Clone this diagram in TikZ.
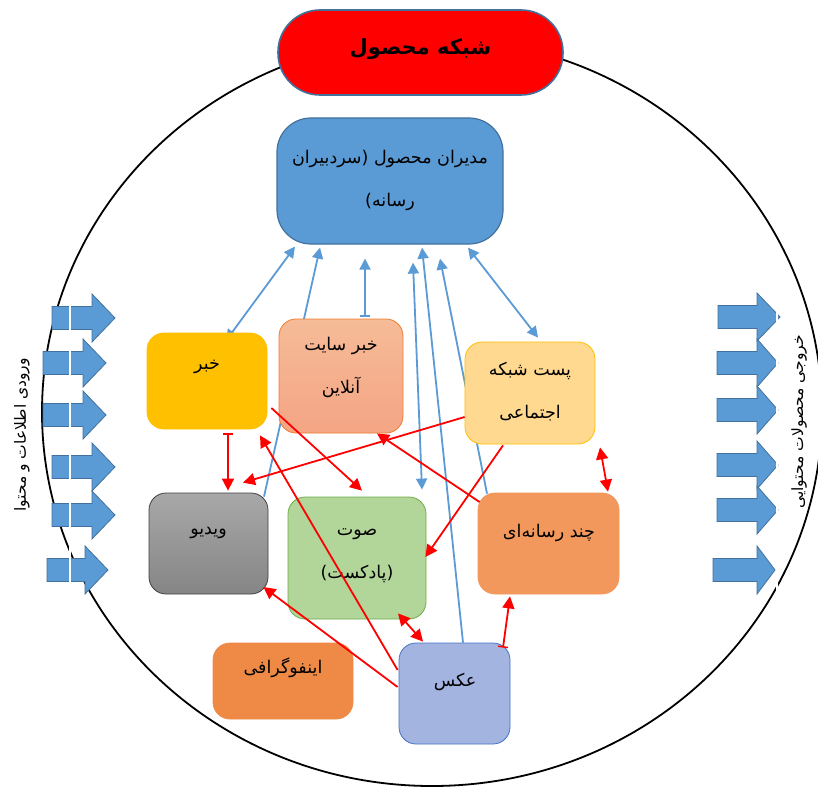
\documentclass[tikz,border=0pt]{standalone}
\usepackage{fontspec}
\usetikzlibrary{arrows.meta,calc}
\newfontfamily\arfont[Script=Arabic]{DejaVu Sans}
\TeXXeTstate=1
\definecolor{blueC}{HTML}{5B9BD5}
\definecolor{blueB}{HTML}{41719C}
\definecolor{redC}{HTML}{FF0000}
\definecolor{yelC}{HTML}{FFC000}
\definecolor{siteT}{HTML}{F6BB98}
\definecolor{siteB}{HTML}{F4A584}
\definecolor{siteD}{HTML}{ED7D31}
\definecolor{postC}{HTML}{FFD98F}
\definecolor{vidT}{HTML}{A8A8A8}
\definecolor{vidB}{HTML}{858585}
\definecolor{vidD}{HTML}{404040}
\definecolor{sndC}{HTML}{B2D59A}
\definecolor{sndD}{HTML}{70AD47}
\definecolor{mulC}{HTML}{F2985C}
\definecolor{infC}{HTML}{EE8A46}
\definecolor{phoC}{HTML}{A3B4E0}
\definecolor{phoD}{HTML}{4472C4}
\pgfdeclarelayer{back}
\pgfdeclarelayer{bg}
\pgfsetlayers{back,bg,main}
\tikzset{
  boxstyle/.style={rounded corners=17pt, line width=0.8pt, inner sep=0pt},
  txt/.style={font=\arfont\fontsize{17.5}{43}\selectfont, align=center, inner sep=0pt},
  sidetxt/.style={font=\arfont\fontsize{15.5}{18}\selectfont, rotate=90, inner sep=0pt},
  blk/.style={fill=blueC, draw=blueB, line width=0.8pt},
  bl/.style={draw=blueC, line width=1.8pt},
  rl/.style={draw=redC, line width=1.8pt},
  btip/.tip={Triangle[length=11pt,width=11pt]},
  rtip/.tip={Triangle[length=12pt,width=12pt]},
  bbar/.tip={Bar[width=10pt,line width=1.5pt]}
}
\begin{document}
\begin{tikzpicture}[x=1pt,y=-1pt]
\useasboundingbox (0,0) rectangle (818,786);
\begin{pgfonlayer}{back}
\fill[white] (0,0) rectangle (818,786);
\draw[line width=1.8pt] (432,412) ellipse [x radius=390pt, y radius=374pt];
\end{pgfonlayer}
% input block arrows (left)
\foreach \xa/\xb/\xc/\yy in {52/92/115/318, 43/83/106/363, 43/83/106/415, 52/92/115/467, 52/92/115/515, 47/85/108/570}{
  \draw[blk] (\xa,\yy-11.5) -- (\xb,\yy-11.5) -- (\xb,\yy-24) -- (\xc,\yy) -- (\xb,\yy+24) -- (\xb,\yy+11.5) -- (\xa,\yy+11.5) -- cycle;
}
% output block arrows (right)
\foreach \xa/\xb/\xc/\yy in {718/757/780/317, 717/757/778/363, 717/757/778/410, 717/757/778/465, 717/757/778/510, 713/757/775/570}{
  \draw[blk] (\xa,\yy-11.5) -- (\xb,\yy-11.5) -- (\xb,\yy-24) -- (\xc,\yy) -- (\xb,\yy+24) -- (\xb,\yy+11.5) -- (\xa,\yy+11.5) -- cycle;
}
\draw[white, line width=2pt] (70,285) -- (70,600);
\draw[white, line width=1.5pt] (777,285) -- (777,600);
% side labels
\node[sidetxt] (inlabel) at (22,435) {\beginR ورودی اطلاعات و محتوا\endR};
\node[sidetxt] (outlabel) at (799,422) {\beginR خروجی محصولات محتوایی\endR};
% title
\node[fill=redC, draw=blueB, line width=1.6pt, rounded corners=42pt, minimum width=285pt, minimum height=85pt, inner sep=0pt] (title) at (420.5,52.5) {};
\node[font=\arfont\bfseries\fontsize{21}{24}\selectfont, inner sep=0pt] (titleT) at (420.5,49) {\beginR شبکه محصول\endR};
% manager node
\node[boxstyle, rounded corners=34pt, fill=blueC, draw=blueB, line width=1.2pt, minimum width=226pt, minimum height=126pt] (manager) at (390,181) {};
\node[txt] (managerT) at (390,180) {\beginR مدیران محصول (سردبیران\endR\\\beginR رسانه)\endR};
% content boxes
\node[boxstyle, fill=yelC, draw=yelC, minimum width=120pt, minimum height=96pt] (khabar) at (207,381) {};
\node[boxstyle, top color=siteT, bottom color=siteB, draw=siteD, minimum width=124pt, minimum height=114pt] (site) at (341,376) {};
\node[boxstyle, fill=postC, draw=yelC, minimum width=130pt, minimum height=102pt] (post) at (530,393) {};
\node[boxstyle, top color=vidT, bottom color=vidB, draw=vidD, minimum width=119pt, minimum height=101pt] (video) at (208.5,543.5) {};
\node[boxstyle, fill=sndC, draw=sndD, minimum width=138pt, minimum height=122pt] (sound) at (357,558) {};
\node[boxstyle, fill=mulC, draw=mulC, minimum width=141pt, minimum height=101pt] (multi) at (548.5,543.5) {};
\node[boxstyle, fill=infC, draw=infC, minimum width=140pt, minimum height=76pt] (info) at (283,681) {};
\node[boxstyle, fill=phoC, draw=phoD, minimum width=111pt, minimum height=101pt] (photo) at (454.5,693.5) {};
% texts
\node[txt] (khabarT) at (207,367) {\beginR خبر\endR};
\node[txt] (siteT) at (341,367) {\beginR خبر سایت\endR\\\beginR آنلاین\endR};
\node[txt] (postT) at (530,392) {\beginR پست شبکه\endR\\\beginR اجتماعی\endR};
\node[txt] (videoT) at (208.5,533) {\beginR ویدیو\endR};
\node[txt] (soundT) at (357,556) {\beginR صوت\endR\\\beginR (پادکست)\endR};
\node[txt] (multiT) at (549,533) {\beginR چند رسانه‌ای\endR};
\node[txt] (infoT) at (283,668) {\beginR اینفوگرافی\endR};
\node[txt] (photoT) at (455,682) {\beginR عکس\endR};
% blue connectors (behind boxes)
\begin{pgfonlayer}{bg}
\draw[bl, {btip}-{btip}] ($(khabar.north)+(19,8)$) -- ($(manager.south)+(-95,2)$);
\draw[bl, -{btip}] ($(video.north)+(55.5,4)$) -- ($(manager.south)+(-70,3)$);
\draw[bl, {bbar}-{btip}] ($(site.north)+(24,-2)$) -- ($(manager.south)+(-25,14)$);
\draw[bl, {btip}-{btip}] ($(sound.north)+(65,-7)$) -- ($(manager.south)+(23,18)$);
\draw[bl, -{btip}] ($(photo.north)+(8.5,0)$) -- ($(manager.south)+(32,3)$);
\draw[bl, -{btip}] ($(multi.north)+(-61.5,1)$) -- ($(manager.south)+(50,14)$);
\draw[bl, {btip}-{btip}] ($(manager.south)+(78,3)$) -- ($(post.north)+(8,-4)$);
\end{pgfonlayer}
% red connectors
\draw[rl, {bbar}-{rtip}] ($(khabar.south)+(21,4)$) -- ($(video.north)+(19.5,-2)$);
\draw[rl, -{rtip}] ($(khabar.east)+(4,27)$) -- ($(sound.north)+(5,-6)$);
\draw[rl, -{rtip}] ($(post.west)+(0,24)$) -- ($(video.north)+(34.5,-10)$);
\draw[rl, -{rtip}] ($(multi.west)+(2,-41.5)$) -- ($(site.south)+(36,0)$);
\draw[rl, -{rtip}] ($(post.south)+(-27,1)$) -- ($(sound.east)+(-1,-1)$);
\draw[rl, {rtip}-{rtip}] ($(post.south)+(70,3)$) -- ($(multi.north)+(59.5,-1)$);
\draw[rl, -{rtip}] ($(photo.west)+(-1,-23.5)$) -- ($(khabar.south)+(53,6)$);
\draw[rl, -{rtip}] ($(photo.west)+(-1,-6.5)$) -- ($(video.east)+(-5,43.5)$);
\draw[rl, {rtip}-{rtip}] ($(sound.south)+(41,-6)$) -- ($(photo.north)+(-31.5,-1)$);
\draw[rl, {bbar}-{rtip}] ($(photo.north)+(48.5,5)$) -- ($(multi.south)+(-38.5,2)$);
\end{tikzpicture}
\end{document}
